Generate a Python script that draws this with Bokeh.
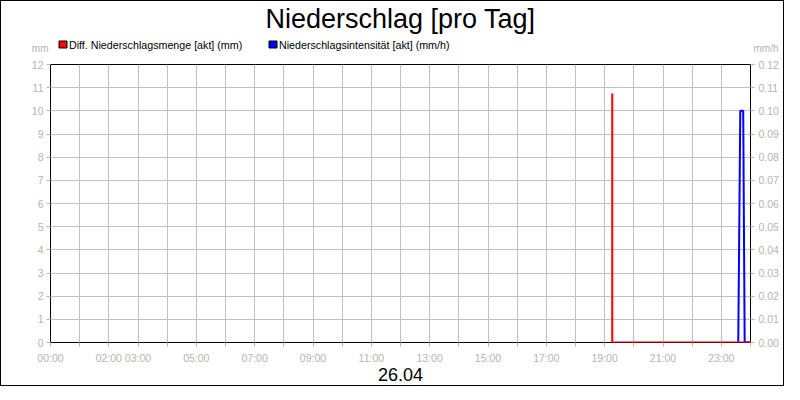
from bokeh.plotting import figure
from bokeh.layouts import column
from bokeh.models import Range1d, LinearAxis, FixedTicker, PrintfTickFormatter
from bokeh.core.properties import value
from bokeh.embed import file_html
from bokeh.resources import INLINE

title_text = "Niederschlag [pro Tag]"
date_text = "26.04"
series_names = ["Diff. Niederschlagsmenge [akt] (mm)", "Niederschlagsintensität [akt] (mm/h)"]
series_colors = ["#ff0000", "#0000ff"]
left_unit = "mm"
right_unit = "mm/h"

hour_ticks = list(range(0, 25))
labeled_hours = [0, 2, 3, 5, 7, 9, 11, 13, 15, 17, 19, 21, 23]
left_ticks = list(range(0, 13))
right_ticks = [0.00, 0.01, 0.02, 0.03, 0.04, 0.05, 0.06, 0.07, 0.08, 0.09, 0.10, 0.11, 0.12]

# time in hours of the day
red_t = [19.26, 19.26, 24.0]
red_v = [10.75, 0.0, 0.0]
blue_t = [23.58, 23.65, 23.75, 23.80, 24.0]
blue_v = [0.0, 0.10, 0.10, 0.0, 0.0]

FONT = "Liberation Sans"
GRAY = "#b4b4b4"
LB, RB, FW = 49, 33, 700   # left border, right border, frame width (same for all parts)


def strip(y0, y1):
    """A plain band whose coordinates are page pixels (x 50..750 = frame)."""
    f = figure(frame_width=FW, frame_height=y1 - y0,
               min_border_left=LB, min_border_right=RB, min_border_top=0, min_border_bottom=0,
               x_range=Range1d(LB + 1, LB + 1 + FW), y_range=Range1d(y1, y0),
               toolbar_location=None, output_backend="svg",
               x_axis_location=None, y_axis_location=None)
    f.grid.visible = False
    f.outline_line_color = None
    f.background_fill_color = "white"
    f.border_fill_color = "white"
    return f


def unit_axis(fig, side, text, y, standoff):
    ax = LinearAxis(ticker=FixedTicker(ticks=[y]), major_label_overrides={y: text})
    ax.axis_line_color = None
    ax.major_tick_line_color = None
    ax.minor_tick_line_color = None
    ax.major_tick_in = 0
    ax.major_tick_out = 0
    ax.major_label_standoff = standoff
    ax.major_label_text_color = GRAY
    ax.major_label_text_font = FONT
    ax.major_label_text_font_size = "10px"
    fig.add_layout(ax, side)


# ---- header: title, legend, units ----
head = strip(1, 56)
head.text(x=[400], y=[18], text=[title_text], text_align="center",
          text_baseline="alphabetic", text_font=value(FONT),
          text_font_size="27px", text_color="black")
head.quad(left=[58.5, 268.5], right=[66.5, 276.5], top=[40.5, 40.5], bottom=[47.5, 47.5],
          fill_color=series_colors, line_color="black", line_width=1)
head.text(x=[68.5, 278.5], y=[44.5, 44.5], text=series_names, text_align="left",
          text_baseline="alphabetic", text_font=value(FONT),
          text_font_size="10.7px", text_color="black")
unit_axis(head, "left", left_unit, 53, 2)
unit_axis(head, "right", right_unit, 53, 3)

# ---- main chart ----
p = figure(frame_width=FW, frame_height=278,
           min_border_left=LB, min_border_right=RB,
           min_border_top=8, min_border_bottom=22,
           x_range=Range1d(0, 24), y_range=Range1d(0, 12),
           output_backend="svg", toolbar_location=None)
p.extra_y_ranges = {"r": Range1d(0, 0.12)}
p.background_fill_color = "white"
p.border_fill_color = "white"
p.outline_line_color = "black"
p.outline_line_width = 1

right = LinearAxis(y_range_name="r")
p.add_layout(right, "right")

p.xaxis.ticker = FixedTicker(ticks=hour_ticks)
p.xaxis.major_label_overrides = {h: (f"{h:02d}:00" if h in labeled_hours else "") for h in hour_ticks}
p.yaxis[0].ticker = FixedTicker(ticks=left_ticks)
right.ticker = FixedTicker(ticks=right_ticks)
right.formatter = PrintfTickFormatter(format="%.2f")

for ax in [p.xaxis[0], p.yaxis[0], right]:
    ax.axis_line_color = None
    ax.major_tick_line_color = GRAY
    ax.major_tick_in = 0
    ax.major_tick_out = 4
    ax.minor_tick_line_color = None
    ax.major_label_text_color = GRAY
    ax.major_label_text_font = FONT
    ax.major_label_text_font_size = "10.5px"
p.xaxis[0].major_label_standoff = 5
p.yaxis[0].major_label_standoff = 3
right.major_label_standoff = 4

p.xgrid.ticker = FixedTicker(ticks=hour_ticks)
p.ygrid.ticker = FixedTicker(ticks=left_ticks)
p.grid.grid_line_color = "#c0c0c0"
p.grid.grid_line_width = 1

p.line(blue_t, blue_v, line_color=series_colors[1], line_width=2, y_range_name="r")
p.line(red_t, red_v, line_color=series_colors[0], line_width=2)

# ---- footer: date ----
foot = strip(364, 383)
foot.text(x=[400], y=[372], text=[date_text], text_align="center",
          text_baseline="middle", text_font=value(FONT),
          text_font_size="18px", text_color="black")

layout = column(head, p, foot, spacing=0)
layout.styles = {"border": "1px solid black"}

open("out.html", "w").write(file_html(layout, INLINE))
